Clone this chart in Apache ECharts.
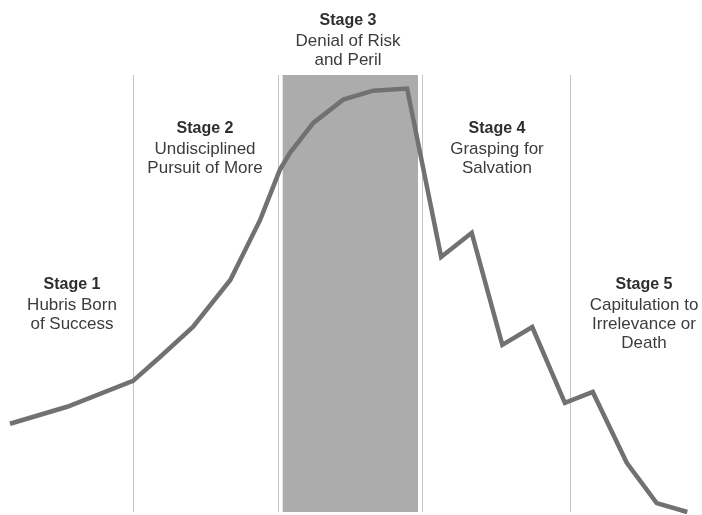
<!DOCTYPE html>
<html>
<head>
<meta charset="utf-8">
<script src="https://cdn.jsdelivr.net/npm/echarts@6/dist/echarts.min.js"></script>
<style>
  html, body { margin: 0; padding: 0; background: #fff; }
  #main { width: 702px; height: 515px; }
</style>
</head>
<body>
<div id="main"></div>
<script>
// decline curve, x = time (0-100), y = strength (0-100)
const timeX = [0, 8.4, 18.1, 22.1, 26.9, 32.4, 36.8, 39.7, 41.2, 44.6, 49.0, 53.4, 58.4, 63.4, 67.9, 72.4, 76.8, 81.6, 85.7, 90.7, 95.1, 99.6];
const strength = [20.8, 24.8, 30.9, 36.6, 43.6, 54.7, 68.9, 80.7, 84.7, 91.7, 97.2, 99.3, 99.8, 60.1, 65.8, 39.4, 43.6, 25.7, 28.3, 11.6, 2.1, 0];

const stageBounds = [18.1, 39.4, 60.6, 82.4];
const shadedStage = [40.1, 60.0];

const stageTitles = ['Stage 1', 'Stage 2', 'Stage 3', 'Stage 4', 'Stage 5'];
const stageTexts = [
  ['Hubris Born', 'of Success'],
  ['Undisciplined', 'Pursuit of More'],
  ['Denial of Risk', 'and Peril'],
  ['Grasping for', 'Salvation'],
  ['Capitulation to', 'Irrelevance or', 'Death']
];
// label anchor (px) for each stage
const labelPos = [[72, 274], [205, 118], [348, 10], [497, 118], [644, 274]];

const chart = echarts.init(document.getElementById('main'), null, { renderer: 'canvas' });

const font = '"Liberation Sans", sans-serif';

const labels = stageTitles.map(function (t, i) {
  const lines = ['{b|' + t + '}'].concat(stageTexts[i].map(function (s) { return '{n|' + s + '}'; }));
  return {
    type: 'text',
    x: labelPos[i][0],
    y: labelPos[i][1],
    style: {
      text: lines.join('\n'),
      align: 'center',
      verticalAlign: 'top',
      fill: '#333',
      rich: {
        b: { fontFamily: font, fontWeight: 'bold', fontSize: 16, lineHeight: 22, align: 'center', fill: '#2e2e2e' },
        n: { fontFamily: font, fontSize: 17, lineHeight: 19, align: 'center', fill: '#3c3c3c' }
      }
    }
  };
});

chart.setOption({
  animation: false,
  backgroundColor: '#fff',
  grid: { left: 10, right: 12, top: 75, bottom: 3 },
  xAxis: { type: 'value', min: 0, max: 100, show: false },
  yAxis: { type: 'value', min: 0, max: 103, show: false },
  graphic: labels,
  series: [
    {
      type: 'line',
      data: [],
      silent: true,
      markArea: {
        silent: true,
        itemStyle: { color: '#acacac' },
        data: [[{ xAxis: shadedStage[0], yAxis: 0 }, { xAxis: shadedStage[1], yAxis: 103 }]]
      },
      markLine: {
        silent: true,
        symbol: 'none',
        label: { show: false },
        lineStyle: { color: '#c4c4c4', width: 1, type: 'solid' },
        data: stageBounds.map(function (b) { return { xAxis: b }; })
      }
    },
    {
      type: 'line',
      z: 5,
      symbol: 'none',
      lineStyle: { color: '#717171', width: 4.5, join: 'miter' },
      data: timeX.map(function (x, i) { return [x, strength[i]]; })
    }
  ]
});
</script>
</body>
</html>
